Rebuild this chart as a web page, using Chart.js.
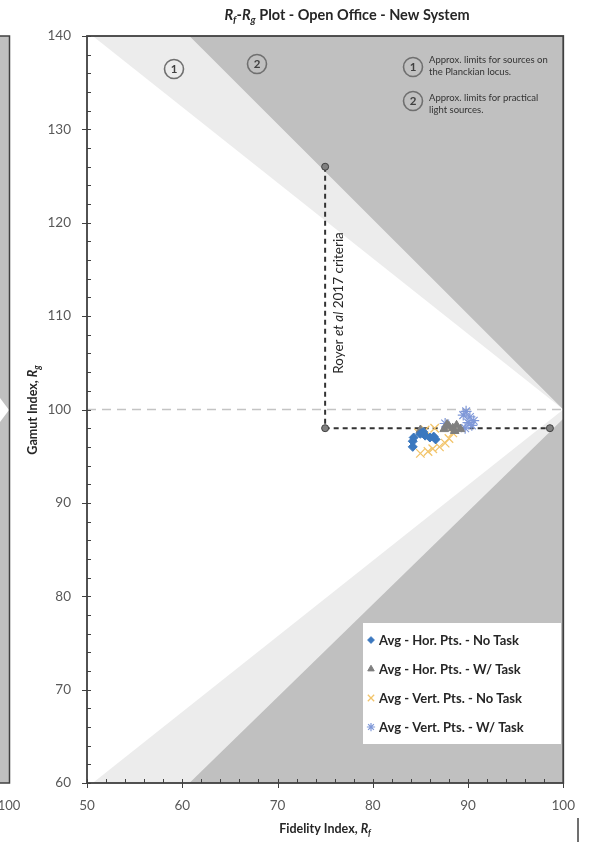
<!DOCTYPE html>
<html>
<head>
<meta charset="utf-8">
<script src="https://cdn.jsdelivr.net/npm/chart.js@4.4.0/dist/chart.umd.min.js"></script>
<style>
  html, body { margin: 0; padding: 0; background: #fff; }
  #wrap { position: relative; width: 590px; height: 842px; }
</style>
</head>
<body>
<div id="wrap"><canvas id="rfRgChart"></canvas></div>
<script>
// axis ranges / ticks
const xRange = [50, 100];
const yRange = [60, 140];

// shaded zones (Rf, Rg)
const practicalRf = [50, 60.75, 100, 100, 60.75, 50];
const practicalRg = [140, 140, 100, 99, 60, 60];
const planckRf = [50, 50.6, 100, 50.6, 50];
const planckRg = [140, 140, 100, 60, 60];

// reference lines
const refRf = [50, 100];
const refRg = [100, 100];
const royerRf = [75, 75, 98.6];
const royerRg = [126, 98, 98];

// measured averages
const horNoTaskRf = [84.2, 84.2, 84.3, 85.0, 85.5, 86.0, 86.4, 86.6, 85.3];
const horNoTaskRg = [96.0, 96.6, 97.0, 97.4, 97.2, 97.0, 97.1, 96.8, 97.6];
const horTaskRf = [85.0, 87.5, 88.0, 88.4, 88.8, 89.2, 88.6, 87.8];
const horTaskRg = [97.8, 97.9, 98.2, 98.0, 98.3, 97.9, 97.7, 98.4];
const vertNoTaskRf = [85.0, 85.8, 86.3, 87.0, 87.6, 88.0, 88.4, 86.5, 85.5, 84.8];
const vertNoTaskRg = [95.3, 95.5, 95.8, 96.0, 96.4, 96.9, 97.5, 98.0, 97.8, 97.5];
const vertTaskRf = [89.5, 89.8, 90.2, 90.0, 90.4, 89.7, 87.6, 90.6];
const vertTaskRg = [99.4, 99.8, 99.2, 98.6, 98.3, 98.0, 98.5, 98.8];

const seriesNames = [
  "Avg - Hor. Pts. - No Task",
  "Avg - Hor. Pts. - W/ Task",
  "Avg - Vert. Pts. - No Task",
  "Avg - Vert. Pts. - W/ Task"
];

function pts(rf, rg) {
  return rf.map(function (v, i) { return { x: v, y: rg[i] }; });
}

const FONT = "Lato, 'Open Sans', sans-serif";
const markers = [
  { style: "rectRot", color: "#3b78bf", radius: 4.5, border: 1 },
  { style: "triangle", color: "#7f7f7f", radius: 5, border: 1 },
  { style: "crossRot", color: "#f2c46a", radius: 6, border: 1.3 },
  { style: "star", color: "#7f98d8", radius: 5.5, border: 1.2 }
];

function drawParts(ctx, parts, x, y, size, align) {
  let total = 0;
  parts.forEach(function (p) {
    ctx.font = (p.italic ? "italic " : "") + "bold " + (p.sub ? size * 0.7 : size) + "px " + FONT;
    p.w = ctx.measureText(p.t).width;
    total += p.w;
  });
  let cx = align === "center" ? x - total / 2 : x;
  ctx.textBaseline = "middle";
  ctx.textAlign = "left";
  parts.forEach(function (p) {
    ctx.font = (p.italic ? "italic " : "") + "bold " + (p.sub ? size * 0.7 : size) + "px " + FONT;
    ctx.fillText(p.t, cx, p.sub ? y + size * 0.3 : y);
    cx += p.w;
  });
}

function circled(ctx, n, x, y, r) {
  ctx.save();
  ctx.strokeStyle = "#6f6f6f";
  ctx.lineWidth = 1.6;
  ctx.beginPath();
  ctx.arc(x, y, r, 0, Math.PI * 2);
  ctx.stroke();
  ctx.fillStyle = "#404040";
  ctx.font = "bold " + (r + 2) + "px " + FONT;
  ctx.textAlign = "center";
  ctx.textBaseline = "middle";
  ctx.fillText(n, x, y + 0.5);
  ctx.restore();
}

const decorations = {
  id: "decorations",
  beforeDatasetsDraw: function (chart) {
    const ctx = chart.ctx;
    const a = chart.chartArea;
    ctx.save();
    // neighbouring chart at the left edge
    ctx.fillStyle = "#c0c0c0";
    ctx.fillRect(0, a.top, 9, a.bottom - a.top);
    ctx.fillStyle = "#ffffff";
    ctx.beginPath();
    ctx.moveTo(0, 398); ctx.lineTo(9, 410); ctx.lineTo(0, 422); ctx.closePath();
    ctx.fill();
    ctx.strokeStyle = "#404040";
    ctx.lineWidth = 1.5;
    ctx.beginPath();
    ctx.moveTo(0, a.top); ctx.lineTo(9.5, a.top); ctx.lineTo(9.5, a.bottom); ctx.lineTo(0, a.bottom);
    ctx.stroke();
    ctx.fillStyle = "#595959";
    ctx.font = "13px " + FONT;
    ctx.textAlign = "center";
    ctx.textBaseline = "middle";
    ctx.fillText("100", 9, 806);
    // dark gray background of plot
    ctx.fillStyle = "#c0c0c0";
    ctx.fillRect(a.left, a.top, a.right - a.left, a.bottom - a.top);
    ctx.restore();
  },
  afterDatasetsDraw: function (chart) {
    const ctx = chart.ctx;
    const a = chart.chartArea;
    const xs = chart.scales.x;
    const ys = chart.scales.y;
    ctx.save();

    // frame
    ctx.strokeStyle = "#404040";
    ctx.lineWidth = 1.8;
    ctx.strokeRect(a.left, a.top, a.right - a.left, a.bottom - a.top);

    // tick marks
    ctx.lineWidth = 1;
    ctx.beginPath();
    for (let v = xRange[0]; v <= xRange[1]; v += 2) {
      const px = Math.round(xs.getPixelForValue(v)) + 0.5;
      const major = v % 10 === 0;
      ctx.moveTo(px, a.bottom - 4);
      ctx.lineTo(px, a.bottom + (major ? 5 : 0));
    }
    for (let v = yRange[0]; v <= yRange[1]; v += 2) {
      const py = Math.round(ys.getPixelForValue(v)) + 0.5;
      const major = v % 10 === 0;
      ctx.moveTo(a.left - (major ? 5 : 0), py);
      ctx.lineTo(a.left + 4, py);
    }
    ctx.stroke();

    // circled zone labels
    circled(ctx, "1", 174, 69, 9.5);
    circled(ctx, "2", 257, 64, 9.5);

    // key for zones
    ctx.save();
    ctx.beginPath();
    ctx.rect(a.left, a.top, a.right - a.left, a.bottom - a.top);
    ctx.clip();
    circled(ctx, "1", 413, 67, 9.5);
    circled(ctx, "2", 413, 101, 9.5);
    ctx.fillStyle = "#333333";
    ctx.font = "9.5px " + FONT;
    ctx.textAlign = "left";
    ctx.textBaseline = "middle";
    ctx.fillText("Approx. limits for sources on", 429, 60);
    ctx.fillText("the Planckian locus.", 429, 72);
    ctx.fillText("Approx. limits for practical", 429, 98);
    ctx.fillText("light sources.", 429, 110);
    ctx.restore();

    // Royer criteria label
    ctx.save();
    ctx.translate(xs.getPixelForValue(75) + 14, 303);
    ctx.rotate(-Math.PI / 2);
    ctx.fillStyle = "#262626";
    ctx.textBaseline = "middle";
    ctx.textAlign = "left";
    const pieces = [["Royer ", ""], ["et al", "italic "], [" 2017 criteria", ""]];
    let w = 0;
    pieces.forEach(function (p) { ctx.font = p[1] + "13.5px " + FONT; w += ctx.measureText(p[0]).width; });
    let cx = -w / 2;
    pieces.forEach(function (p) {
      ctx.font = p[1] + "13.5px " + FONT;
      ctx.fillText(p[0], cx, 0);
      cx += ctx.measureText(p[0]).width;
    });
    ctx.restore();

    // legend box
    ctx.fillStyle = "#ffffff";
    ctx.fillRect(363, 623, 198, 121);
    const rows = [640, 669, 698, 727];
    seriesNames.forEach(function (name, i) {
      const m = markers[i];
      ctx.save();
      ctx.fillStyle = m.color;
      ctx.strokeStyle = m.color;
      ctx.lineWidth = m.border;
      Chart.helpers.drawPoint(ctx, { pointStyle: m.style, radius: m.radius * 0.75, rotation: 0, borderWidth: m.border }, 371, rows[i]);
      ctx.restore();
      ctx.fillStyle = "#262626";
      ctx.font = "bold 13px " + FONT;
      ctx.textAlign = "left";
      ctx.textBaseline = "middle";
      ctx.fillText(name, 379, rows[i] + 1);
    });

    ctx.restore();
  },
  afterDraw: function (chart) {
    const ctx = chart.ctx;
    const a = chart.chartArea;
    ctx.save();
    ctx.fillStyle = "#262626";
    // title
    drawParts(ctx, [
      { t: "R", italic: true }, { t: "f", italic: true, sub: true },
      { t: "-" }, { t: "R", italic: true }, { t: "g", italic: true, sub: true },
      { t: " Plot - Open Office - New System" }
    ], 347, 15, 14.5, "center");
    // x axis title
    drawParts(ctx, [
      { t: "Fidelity Index, " }, { t: "R", italic: true }, { t: "f", italic: true, sub: true }
    ], (a.left + a.right) / 2, 829, 12.5, "center");
    // y axis title
    ctx.translate(33, 410);
    ctx.rotate(-Math.PI / 2);
    drawParts(ctx, [
      { t: "Gamut Index, " }, { t: "R", italic: true }, { t: "g", italic: true, sub: true }
    ], 0, 0, 12.5, "center");
    ctx.restore();
    // stray edge mark at bottom right
    ctx.save();
    ctx.strokeStyle = "#404040";
    ctx.lineWidth = 1.5;
    ctx.beginPath();
    ctx.moveTo(578, 818); ctx.lineTo(578, 842);
    ctx.stroke();
    ctx.restore();
  }
};

function markerSet(i, rf, rg) {
  const m = markers[i];
  return {
    label: seriesNames[i],
    data: pts(rf, rg),
    showLine: false,
    pointStyle: m.style,
    pointRadius: m.radius,
    pointBackgroundColor: m.color,
    pointBorderColor: m.color,
    pointBorderWidth: m.border,
    order: i
  };
}

new Chart(document.getElementById("rfRgChart"), {
  type: "scatter",
  data: {
    datasets: [
      markerSet(0, horNoTaskRf, horNoTaskRg),
      markerSet(1, horTaskRf, horTaskRg),
      markerSet(2, vertNoTaskRf, vertNoTaskRg),
      markerSet(3, vertTaskRf, vertTaskRg),
      {
        label: "Royer",
        data: pts(royerRf, royerRg),
        showLine: true,
        borderColor: "#333333",
        borderWidth: 2,
        borderDash: [5, 4],
        pointRadius: 3.5,
        pointBackgroundColor: "#808080",
        pointBorderColor: "#404040",
        pointBorderWidth: 1,
        order: 4
      },
      {
        label: "Rg 100",
        data: pts(refRf, refRg),
        showLine: true,
        borderColor: "#c4c4c4",
        borderWidth: 1.5,
        borderDash: [9, 6],
        pointRadius: 0,
        order: 5
      },
      {
        label: "Planckian",
        data: pts(planckRf, planckRg),
        showLine: true,
        fill: "shape",
        backgroundColor: "#ffffff",
        borderWidth: 0,
        borderColor: "rgba(0,0,0,0)",
        pointRadius: 0,
        order: 6
      },
      {
        label: "Practical",
        data: pts(practicalRf, practicalRg),
        showLine: true,
        fill: "shape",
        backgroundColor: "#ececec",
        borderWidth: 0,
        borderColor: "rgba(0,0,0,0)",
        pointRadius: 0,
        order: 7
      }
    ]
  },
  options: {
    responsive: true,
    maintainAspectRatio: false,
    animation: false,
    layout: { padding: { left: 0, top: 36, right: 20, bottom: 0 } },
    plugins: {
      legend: { display: false },
      tooltip: { enabled: false },
      title: { display: false }
    },
    scales: {
      x: {
        type: "linear",
        min: xRange[0],
        max: xRange[1],
        ticks: { stepSize: 10, color: "#595959", font: { family: FONT, size: 13.5 }, padding: 15 },
        grid: { display: false, drawTicks: false },
        border: { display: false },
        afterFit: function (s) { s.height = 59; }
      },
      y: {
        type: "linear",
        min: yRange[0],
        max: yRange[1],
        ticks: { stepSize: 10, color: "#595959", font: { family: FONT, size: 13.5 }, padding: 16 },
        grid: { display: false, drawTicks: false },
        border: { display: false },
        afterFit: function (s) { s.width = 87; }
      }
    }
  },
  plugins: [decorations]
});
</script>
</body>
</html>
